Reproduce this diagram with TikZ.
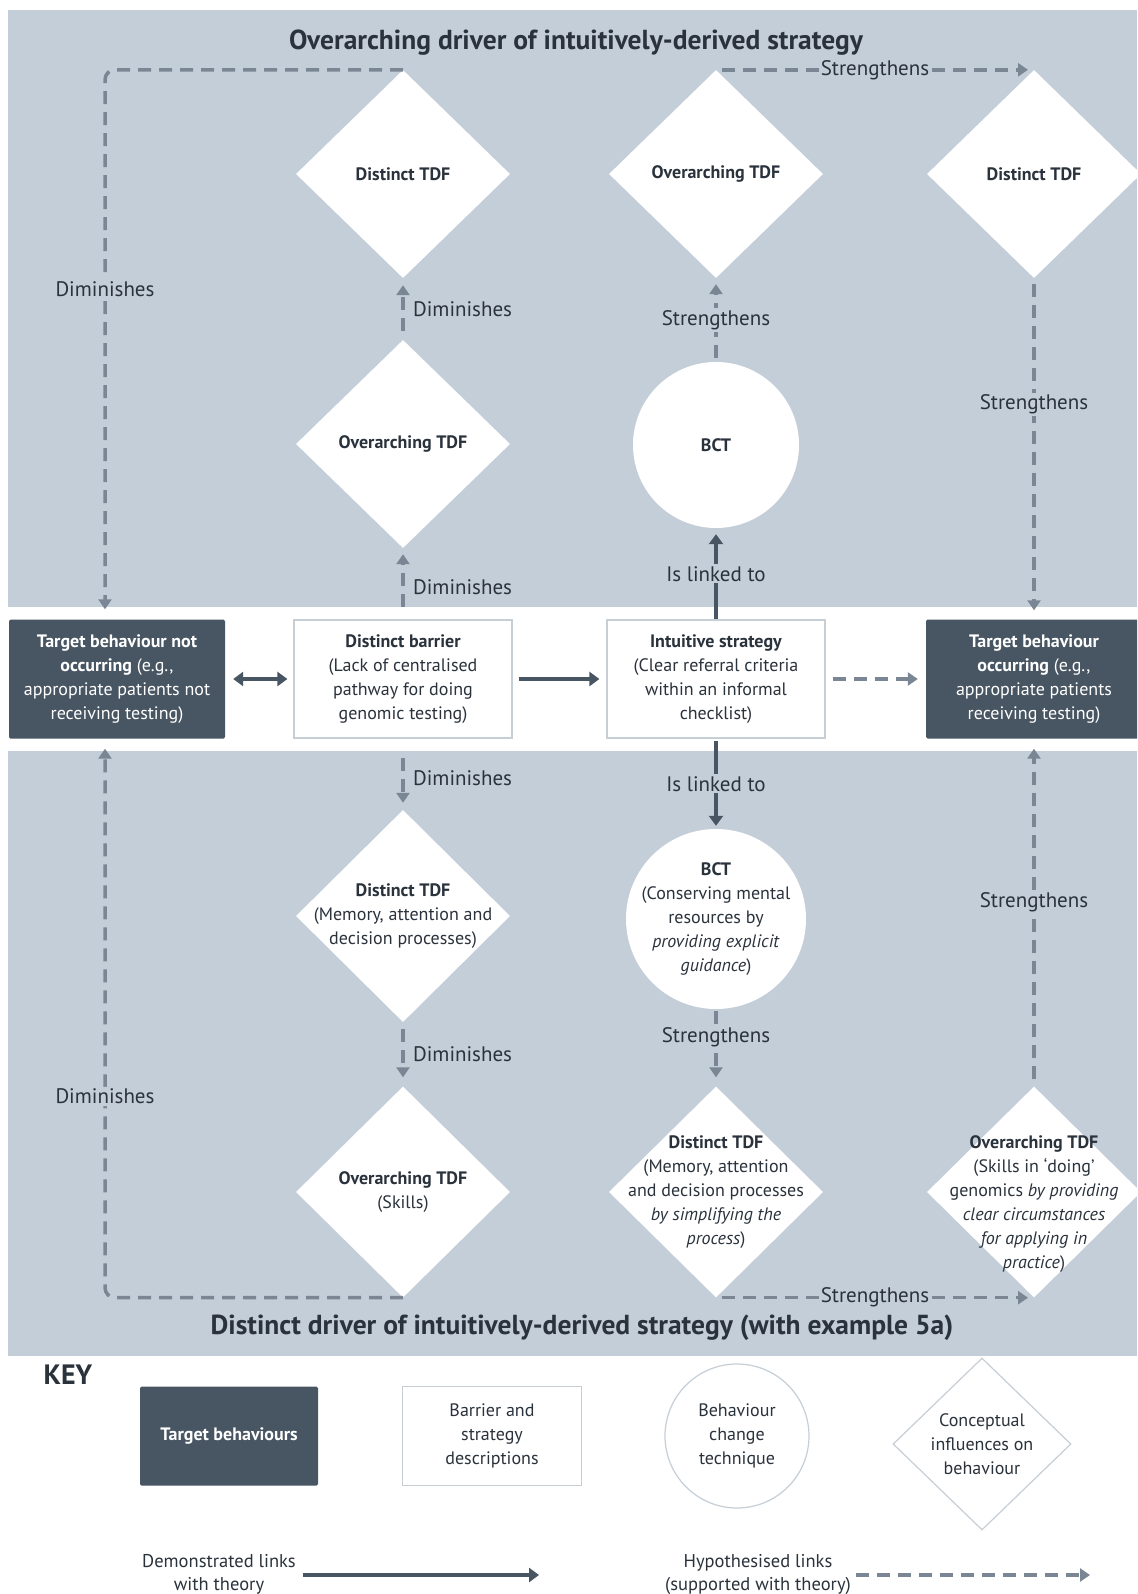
\documentclass[tikz,border=0pt]{standalone}
\usepackage{fontspec}
\setmainfont{PT Sans}
\usepackage{tikz}
\usetikzlibrary{arrows.meta,positioning,shapes.geometric,calc}
\definecolor{panelblue}{RGB}{195,206,216}
\definecolor{targetdark}{RGB}{72,85,98}
\definecolor{linkgrey}{RGB}{122,134,147}
\definecolor{textdark}{RGB}{42,50,60}
\definecolor{keyborder}{RGB}{198,206,214}
\newcommand{\nodefont}{\fontsize{18}{24}\selectfont}
\newcommand{\linkfont}{\fontsize{21}{24}\selectfont}
\newcommand{\titlefont}{\fontsize{27.5}{32}\selectfont\bfseries}

\tikzset{
  target/.style={rectangle, fill=targetdark, text=white, rounded corners=1.5pt,
    minimum width=216pt, minimum height=119pt, inner sep=0pt, align=center, font=\nodefont},
  descbox/.style={rectangle, fill=white, draw=keyborder, line width=1.2pt, text=textdark,
    minimum width=218pt, minimum height=118pt, inner sep=0pt, align=center, font=\nodefont},
  tdf/.style={diamond, fill=white, minimum width=214pt, minimum height=208pt, inner sep=0pt},
  tdftext/.style={align=center, font=\nodefont, text=textdark},
  bct/.style={circle, fill=white, inner sep=0pt},
  demo/.style={line width=4pt, draw=targetdark, -{Triangle[length=10pt,width=14pt]}},
  hypo/.style={line width=3.5pt, draw=linkgrey, dash pattern=on 13pt off 8pt,
    -{Triangle[length=10pt,width=13pt]}},
  linklabel/.style={font=\linkfont, text=textdark, fill=panelblue, inner sep=2pt},
  sidelabel/.style={font=\linkfont, text=textdark, anchor=west, xshift=5pt},
}

\begin{document}
\begin{tikzpicture}[x=1pt, y=-1pt]
  \useasboundingbox (0,0) rectangle (1137,1594);
  \clip (0,0) rectangle (1137,1594);
  \fill[white] (0,0) rectangle (1137,1594);
  \fill[panelblue] (8,10) rectangle (1137,607);
  \fill[panelblue] (8,751) rectangle (1137,1356);

  \node[text=textdark, font=\titlefont] (toptitle) at (576,43)
    {Overarching driver of intuitively-derived strategy};
  \node[text=textdark, font=\titlefont] (bottomtitle) at (582,1328)
    {Distinct driver of intuitively-derived strategy (with example 5a)};

  % upper half
  \node[tdf, label={[tdftext]center:\textbf{Distinct TDF}}] (dt1) at (403,174) {};
  \node[tdf, label={[tdftext]center:\textbf{Overarching TDF}}] (ot1) at (716,174) {};
  \node[tdf, label={[tdftext]center:\textbf{Distinct TDF}}] (dt2) at (1034,174) {};
  \node[tdf, label={[tdftext]center:\textbf{Overarching TDF}}] (ot0) at (403,444) {};
  \node[bct, minimum size=166pt, label={[tdftext]center:\textbf{BCT}}] (bct1) at (716,445) {};

  % middle row
  \node[target] (tbn) at (117,679) {\textbf{Target behaviour not}\\\textbf{occurring} (e.g.,\\appropriate patients not\\receiving testing)};
  \node[descbox] (barrier) at (403,679) {\textbf{Distinct barrier}\\(Lack of centralised\\pathway for doing\\genomic testing)};
  \node[descbox] (strat) at (716,679) {\textbf{Intuitive strategy}\\(Clear referral criteria\\within an informal\\checklist)};
  \node[target] (tbo) at (1034,679) {\textbf{Target behaviour}\\\textbf{occurring} (e.g.,\\appropriate patients\\receiving testing)};

  % lower half
  \node[tdf, minimum height=212pt, label={[tdftext]center:{\textbf{Distinct TDF}\\(Memory, attention and\\decision processes)}}] (dt3) at (403,916) {};
  \node[bct, minimum size=180pt, label={[tdftext]center:{\textbf{BCT}\\(Conserving mental\\resources by\\\textit{providing explicit}\\\textit{guidance})}}] (bct2) at (716,919) {};
  \node[tdf, minimum height=211pt, label={[tdftext]center:{\textbf{Overarching TDF}\\(Skills)}}] (ot3) at (403,1192) {};
  \node[tdf, minimum height=211pt, label={[tdftext]center:{\textbf{Distinct TDF}\\(Memory, attention\\and decision processes\\\textit{by simplifying the}\\\textit{process})}}] (dt4) at (716,1192) {};
  \node[tdf, minimum height=211pt, label={[tdftext, yshift=-12pt]center:{\textbf{Overarching TDF}\\(Skills in `doing'\\genomics \textit{by providing}\\\textit{clear circumstances}\\\textit{for applying in}\\\textit{practice})}}] (ot4) at (1034,1192) {};

  % links, upper half
  \draw[hypo, rounded corners=10pt, shorten >=10pt] (dt1.north) -| ([xshift=-12pt]tbn.north)
    node[pos=0.70, linklabel] {Diminishes};
  \draw[hypo, shorten <=6pt, shorten >=6pt] (ot1.north) -- (dt2.north)
    node[midway, linklabel] {Strengthens};
  \draw[hypo, shorten <=6pt, shorten >=9pt] (dt2.south) -- (tbo.north)
    node[pos=0.37, linklabel] {Strengthens};
  \draw[hypo, shorten <=9pt, shorten >=7pt] (ot0.north) -- (dt1.south)
    node[midway, sidelabel] {Diminishes};
  \draw[hypo, shorten <=12pt, shorten >=6pt] (barrier.north) -- (ot0.south)
    node[pos=0.45, sidelabel] {Diminishes};
  \draw[hypo, shorten <=4pt, shorten >=6pt] (bct1.north) -- (ot1.south)
    node[midway, linklabel] {Strengthens};
  \draw[demo, shorten >=6pt] (strat.north) -- (bct1.south)
    node[midway, linklabel] {Is linked to};

  % links, middle row
  \draw[demo, {Triangle[length=10pt,width=14pt]}-{Triangle[length=10pt,width=14pt]},
    shorten <=8pt, shorten >=6pt] (tbn.east) -- (barrier.west);
  \draw[demo, shorten <=6pt, shorten >=7pt] (barrier.east) -- (strat.west);
  \draw[hypo, shorten <=7pt, shorten >=8pt] (strat.east) -- (tbo.west);

  % links, lower half
  \draw[hypo, shorten <=19pt, shorten >=7pt] (barrier.south) -- (dt3.north)
    node[pos=0.55, sidelabel] {Diminishes};
  \draw[hypo, shorten <=7pt, shorten >=9pt] (dt3.south) -- (ot3.north)
    node[pos=0.5, sidelabel] {Diminishes};
  \draw[demo, shorten <=2pt, shorten >=3pt] (strat.south) -- (bct2.north)
    node[pos=0.5, linklabel] {Is linked to};
  \draw[hypo, shorten <=2pt, shorten >=9pt] (bct2.south) -- (dt4.north)
    node[pos=0.37, linklabel] {Strengthens};
  \draw[hypo, shorten <=7pt, shorten >=10pt] (ot4.north) -- (tbo.south)
    node[pos=0.53, linklabel] {Strengthens};
  \draw[hypo, rounded corners=10pt, shorten >=10pt] (ot3.south) -| ([xshift=-12pt]tbn.south)
    node[pos=0.68, linklabel] {Diminishes};
  \draw[hypo, shorten <=6pt, shorten >=6pt] (dt4.south) -- (ot4.south)
    node[midway, linklabel] {Strengthens};

  % key
  \node[text=textdark, font=\fontsize{28}{30}\selectfont\bfseries] (keyhead) at (68,1375) {KEY};
  \node[target, minimum width=178pt, minimum height=99pt] (keytarget) at (229,1436) {\textbf{Target behaviours}};
  \node[descbox, minimum width=179pt, minimum height=99pt] (keydesc) at (492,1436) {Barrier and\\strategy\\descriptions};
  \node[bct, draw=keyborder, line width=1.2pt, minimum size=144pt, label={[tdftext]center:{Behaviour\\change\\technique}}] (keybct) at (737,1436) {};
  \node[tdf, draw=keyborder, line width=1.2pt, minimum width=178pt, minimum height=172pt, label={[tdftext]center:{Conceptual\\influences on\\behaviour}}] (keytdf) at (982,1444) {};

  \node[tdftext, font=\fontsize{18.5}{23}\selectfont] (keydemo) at (219,1574) {Demonstrated links\\with theory};
  \coordinate (demoend) at (539,1575);
  \draw[demo] (keydemo.east |- demoend) ++(4,0) -- (demoend);
  \node[tdftext, font=\fontsize{18.5}{23}\selectfont] (keyhypo) at (758,1574) {Hypothesised links\\(supported with theory)};
  \coordinate (hypoend) at (1090,1575);
  \draw[hypo] (keyhypo.east |- hypoend) ++(2,0) -- (hypoend);
\end{tikzpicture}
\end{document}
